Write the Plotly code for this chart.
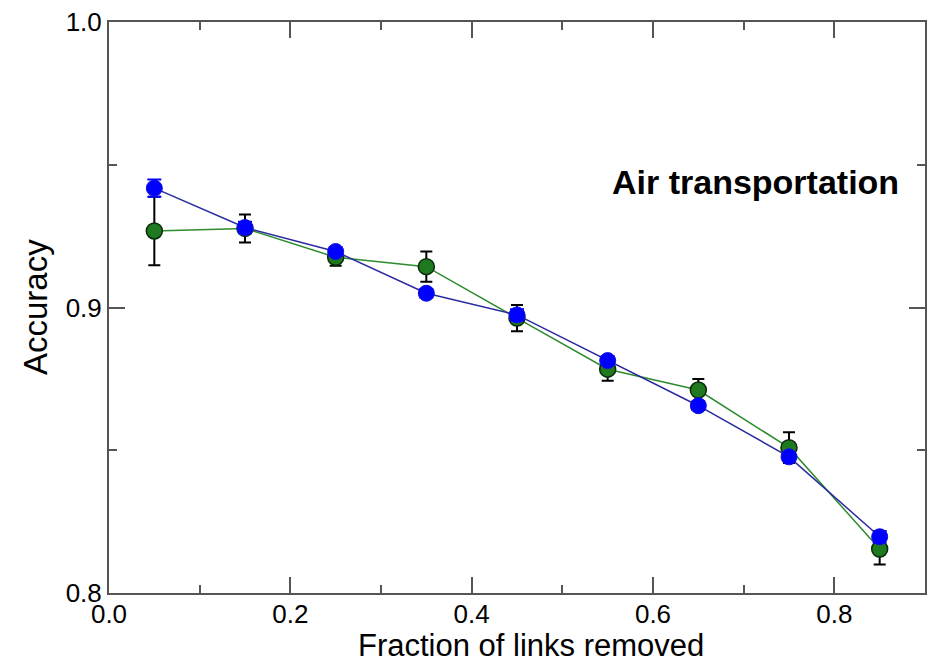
import plotly.graph_objects as go

x_vals = [0.05, 0.15, 0.25, 0.35, 0.45, 0.55, 0.65, 0.75, 0.85]
green_acc = [0.9268, 0.9277, 0.9176, 0.9143, 0.8963, 0.8784, 0.8711, 0.8509, 0.8154]
green_err = [0.012, 0.0049, 0.003, 0.0053, 0.0046, 0.0041, 0.0039, 0.0054, 0.0054]
blue_acc = [0.9418, 0.9280, 0.9196, 0.9050, 0.8974, 0.8814, 0.8656, 0.8477, 0.8197]
blue_err = [0.003, 0.002, 0.0015, 0.0015, 0.002, 0.0015, 0.0015, 0.0015, 0.002]

x_ticks = [0.0, 0.2, 0.4, 0.6, 0.8]
x_ticklabels = ["0.0", "0.2", "0.4", "0.6", "0.8"]
y_ticks = [0.8, 0.9, 1.0]
y_ticklabels = ["0.8", "0.9", "1.0"]

FONT = "Liberation Sans, Arial, Helvetica, sans-serif"
AXC = "#555555"

fig = go.Figure()
fig.add_trace(go.Scatter(
    x=x_vals, y=green_acc, mode="lines+markers",
    line=dict(color="#2e8b2e", width=1.5),
    marker=dict(size=16, color="#1f7a1f", line=dict(color="#0a2a0a", width=1.5)),
    error_y=dict(type="data", array=green_err, visible=True, color="black", thickness=2, width=6),
    showlegend=False,
))
fig.add_trace(go.Scatter(
    x=x_vals, y=blue_acc, mode="lines+markers",
    line=dict(color="#2a2aa0", width=1.5),
    marker=dict(size=16, color="#0000ff", line=dict(color="#1010e0", width=1)),
    error_y=dict(type="data", array=blue_err, visible=True, color="#0000ff", thickness=2, width=7),
    showlegend=False,
))

axis_common = dict(
    showline=True, linecolor=AXC, linewidth=2, mirror="ticks",
    ticks="inside", ticklen=16, tickwidth=2, tickcolor=AXC,
    showgrid=False, zeroline=False,
    tickfont=dict(family=FONT, size=26, color="black"),
)

fig.update_xaxes(range=[0, 0.9], tickvals=x_ticks, ticktext=x_ticklabels,
                 minor=dict(dtick=0.1, tick0=0, ticks="inside", ticklen=8, tickwidth=2, tickcolor=AXC, showgrid=False),
                 ticklabelstandoff=-3,
                 **axis_common)
fig.update_yaxes(range=[0.8, 1.0], tickvals=y_ticks, ticktext=y_ticklabels,
                 minor=dict(dtick=0.05, tick0=0.8, ticks="inside", ticklen=8, tickwidth=2, tickcolor=AXC, showgrid=False),
                 **axis_common)

fig.update_layout(
    width=934, height=662,
    margin=dict(l=109, r=7, t=22, b=69),
    paper_bgcolor="white", plot_bgcolor="white",
    font=dict(family=FONT, color="black"),
    annotations=[
        dict(text="Air transportation", xref="paper", yref="paper", x=0.971, y=0.72,
             xanchor="right", yanchor="middle", showarrow=False,
             font=dict(family=FONT, size=34, color="black", weight="bold")),
        dict(text="Fraction of links removed", xref="paper", yref="paper", x=0.517, y=-0.0915,
             xanchor="center", yanchor="middle", showarrow=False,
             font=dict(family=FONT, size=31, color="black")),
        dict(text="Accuracy", xref="paper", yref="paper", x=-0.09, y=0.5,
             xanchor="center", yanchor="middle", showarrow=False, textangle=-90,
             font=dict(family=FONT, size=33, color="black")),
    ],
)

fig.write_html("out.html", config={"displayModeBar": False},
               post_script="document.body.style.margin='0px';document.body.style.overflow='hidden';")
